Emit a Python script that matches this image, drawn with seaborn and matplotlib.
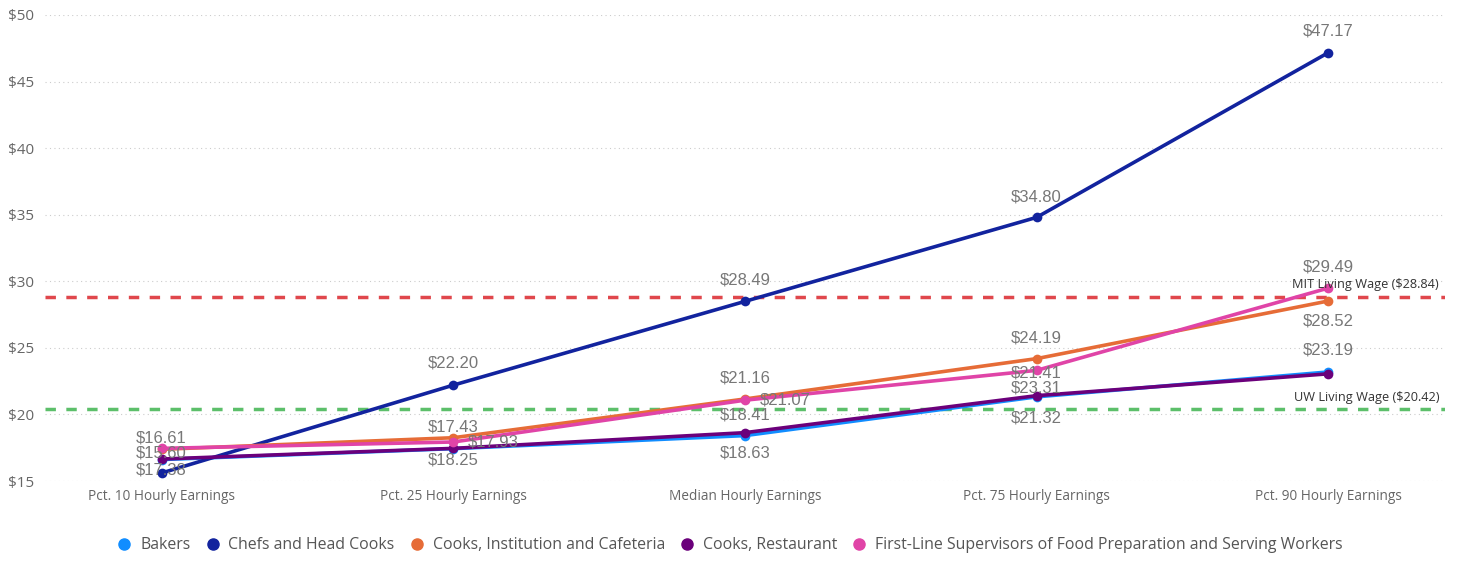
import pandas as pd
import matplotlib.pyplot as plt
import seaborn as sns
from matplotlib.lines import Line2D

# Data
categories = ["Pct. 10 Hourly Earnings", "Pct. 25 Hourly Earnings", "Median Hourly Earnings",
              "Pct. 75 Hourly Earnings", "Pct. 90 Hourly Earnings"]
bakers = [16.61, 17.43, 18.41, 21.32, 23.19]
chefs = [15.60, 22.20, 28.49, 34.80, 47.17]
cooks_inst = [17.38, 18.25, 21.16, 24.19, 28.52]
cooks_rest = [16.65, 17.45, 18.63, 21.41, 23.05]
supervisors = [17.45, 17.93, 21.07, 23.31, 29.49]
series_names = ["Bakers", "Chefs and Head Cooks", "Cooks, Institution and Cafeteria",
                "Cooks, Restaurant", "First-Line Supervisors of Food Preparation and Serving Workers"]
mit_wage = 28.84
uw_wage = 20.42

colors = ["#118DFF", "#12239E", "#E66C37", "#6B007B", "#E044A7"]

# which data labels are shown: (series index, category index, dx px, dy px)
shown_labels = [
    (0, 0, 0, 22), (1, 0, 0, 20), (2, 0, 0, -21),
    (0, 1, 0, 22), (4, 1, 40, 0), (2, 1, 0, -22), (1, 1, 0, 22),
    (2, 2, 0, 21), (4, 2, 40, 0), (0, 2, 0, 21), (3, 2, 0, -20), (1, 2, 0, 21),
    (2, 3, 0, 21), (3, 3, 0, 23), (4, 3, 0, -18), (0, 3, 0, -21), (1, 3, 0, 20),
    (1, 4, 0, 22), (4, 4, 0, 21), (2, 4, 0, -20), (0, 4, 0, 22),
]

all_values = [bakers, chefs, cooks_inst, cooks_rest, supervisors]
rows = []
for name, vals in zip(series_names, all_values):
    for cat, v in zip(categories, vals):
        rows.append({"category": cat, "series": name, "value": v})
df = pd.DataFrame(rows)

sns.set_style("white")
plt.rcParams['font.family'] = ['Open Sans', 'DejaVu Sans']

fig = plt.figure(figsize=(14.6, 5.61), dpi=100)
ax = fig.add_axes([0.0308, 0.1426, 0.9589, 0.8307])

sns.lineplot(data=df, x="category", y="value", hue="series", hue_order=series_names,
             palette=colors, marker="o", markersize=7, markeredgewidth=0,
             linewidth=2.6, sort=False, legend=False, ax=ax)

# reference lines
ax.axhline(mit_wage, color="#E0474C", linestyle=(0, (3, 3)), linewidth=2.5, zorder=1)
ax.axhline(uw_wage, color="#5CBF6A", linestyle=(0, (3, 3)), linewidth=2.5, zorder=1)
ax.text(4.38, mit_wage + 0.4, f"MIT Living Wage (${mit_wage:.2f})", ha="right", va="bottom",
        fontsize=9.2, color="#333333")
ax.text(4.38, uw_wage + 0.4, f"UW Living Wage (${uw_wage:.2f})", ha="right", va="bottom",
        fontsize=9.2, color="#333333")

# data labels
for si, ci, dx, dy in shown_labels:
    v = all_values[si][ci]
    ax.annotate(f"${v:.2f}", (ci, v), xytext=(dx, dy), textcoords="offset pixels",
                ha="center", va="center", fontsize=12, color="#777777",
                family="Liberation Sans")

ax.set_xlim(-0.4, 4.4)
ax.set_ylim(15, 50)
ax.set_yticks(range(15, 51, 5))
ax.set_yticklabels([f"${t}" for t in range(15, 51, 5)])
ax.grid(axis="y", color="#cccccc", linestyle=(0, (1, 3)), linewidth=0.8)
ax.set_axisbelow(True)
for s in ax.spines.values():
    s.set_visible(False)
ax.set_xlabel("")
ax.set_ylabel("")
ax.tick_params(axis="y", labelsize=11, colors="#666666", length=0, pad=8)
ax.tick_params(axis="x", labelsize=9.8, colors="#666666", length=0, pad=6)

handles = [Line2D([], [], marker="o", linestyle="", color=c, markersize=8) for c in colors]
fig.legend(handles, series_names, loc="center", bbox_to_anchor=(0.497, 0.028), ncol=5,
           frameon=False, fontsize=11.4, handletextpad=0.0, columnspacing=0.4,
           labelcolor="#555555")

fig.savefig("out.png", dpi=100)
